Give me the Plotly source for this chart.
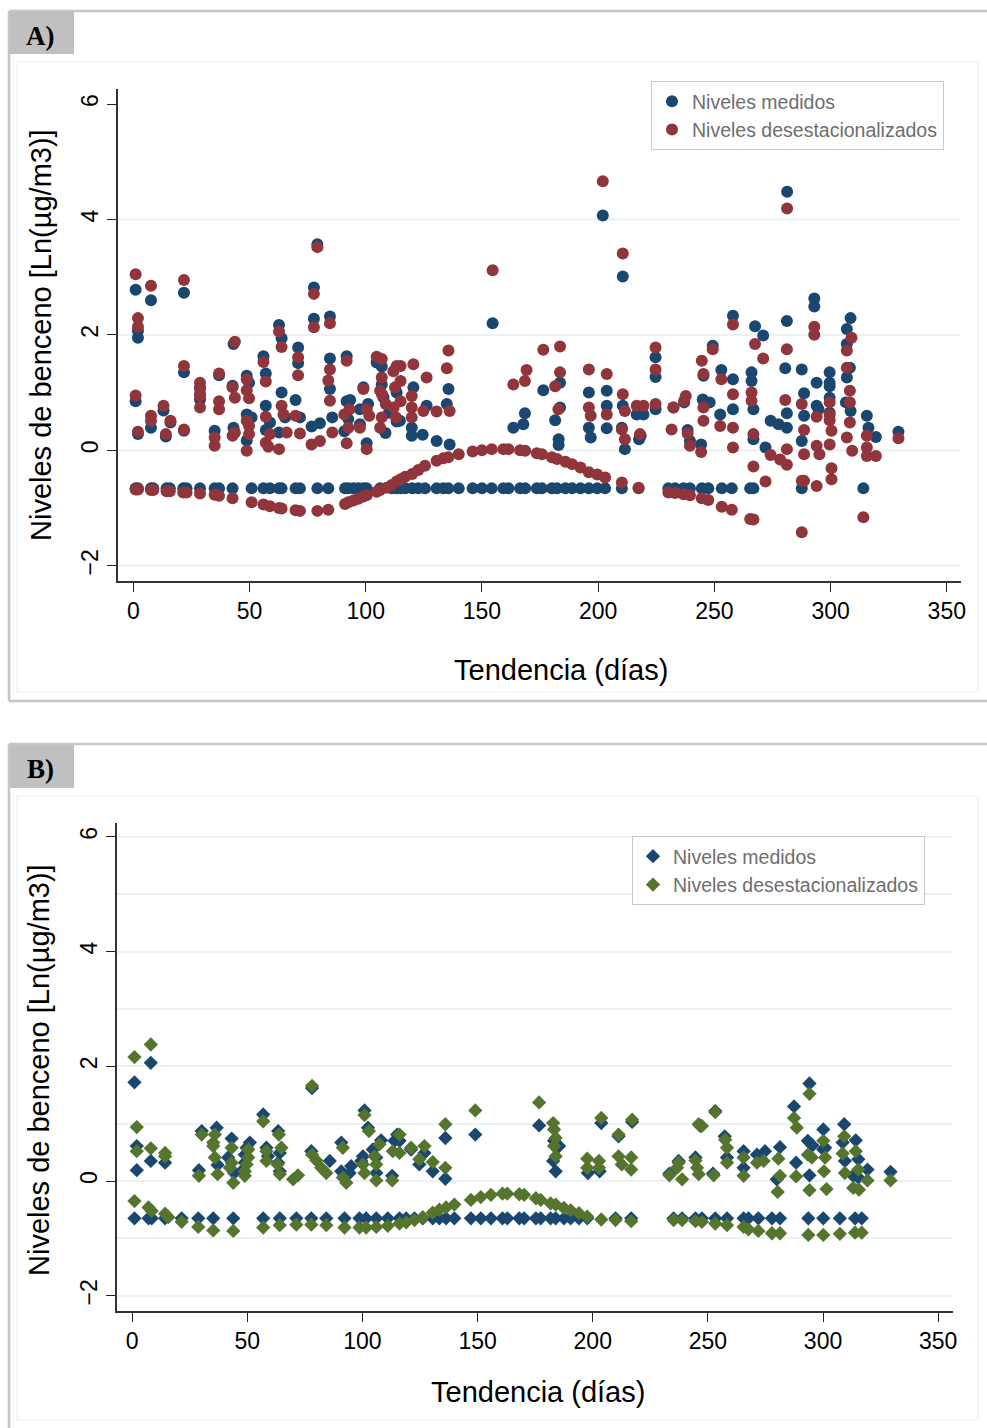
import plotly.graph_objects as go

W, H = 987, 1428
PAGE_W = 992  # the captured page is ~0.5% narrower than the layout; compensate


def px(x):
    return x / W


def py(y):
    return 1 - y / H


# ---------------- Panel A data (day, ln level) ----------------
A_med_upper = [
    (1, 2.78), (2, 2.07), (2, 1.95), (1, 0.85), (2, 0.28),
    (7.6, 2.6), (7.6, 0.39),
    (13, 0.69), (14, 0.24), (16, 0.48),
    (21.8, 2.73), (21.8, 1.35), (21.8, 0.34),
    (28.7, 1.09), (28.7, 0.97), (28.7, 0.88),
    (36.9, 1.3), (35, 0.34),
    (43.1, 1.84), (42.7, 1.12), (43.1, 0.39),
    (48.8, 1.29), (49.8, 1.17), (48.8, 0.62), (50.9, 0.57), (48.8, 0.17),
    (56, 1.63), (57, 1.33), (57, 0.77), (57, 0.35), (58.8, 0.48),
    (62.7, 2.17), (63.8, 1.94), (63.8, 1.0), (65.3, 0.57), (62.7, 0.31),
    (70.9, 1.78), (70.9, 1.51), (69.8, 0.87), (71.7, 0.57),
    (79.2, 3.57), (77.7, 2.82), (77.7, 2.28), (76.7, 0.41), (80.3, 0.47),
    (84.6, 2.32), (84.6, 1.59), (84.6, 1.06), (85.6, 0.57),
    (91.8, 1.63), (91.8, 0.85), (93.3, 0.87), (92.5, 0.54), (90.8, 0.33),
    (99, 1.09), (97.5, 0.71), (101, 0.8), (97.5, 0.45), (100.4, 0.12),
    (104.7, 1.52), (106.9, 1.45), (106.9, 1.14), (107.6, 0.92), (113.3, 1.0),
    (113.3, 0.5), (108.5, 0.3), (110, 0.65),
    (114.7, 0.51), (120.5, 1.09), (119.8, 0.39), (119.8, 0.25),
    (126.2, 0.77), (124.5, 0.27), (130.5, 0.16),
    (135.6, 1.06), (134.9, 0.8), (136.1, 0.1),
    (154.6, 2.2),
    (163.5, 0.39), (168.5, 0.64), (167.8, 0.45),
    (176.4, 1.04),
    (183.6, 1.17), (183.6, 0.74), (181.5, 0.52), (183, 0.19), (183, 0.09),
    (196, 1.0), (196, 0.39), (196.8, 0.22),
    (202, 4.07),
    (203.7, 1.03), (203.7, 0.77), (203.7, 0.38),
    (210.6, 3.01), (210.6, 0.77), (210.2, 0.39), (211.5, 0.02),
    (217.6, 0.19), (218.3, 0.25), (216.6, 0.62), (219.5, 0.62),
    (224.7, 1.61), (224.7, 1.27), (224.7, 0.71),
    (232.4, 0.74), (237, 0.83), (238.5, 0.35), (239.5, 0.16),
    (245, 0.88), (248, 0.83), (245.3, 1.29), (244.3, 0.1),
    (249.3, 1.81), (252.5, 0.62), (253, 1.39),
    (258, 2.33), (258, 1.23), (258, 0.71),
    (266, 1.35), (266, 1.2), (266.8, 0.71), (266.8, 0.19),
    (267.5, 2.15), (271, 1.99), (272, 0.05),
    (274.2, 0.51), (277.6, 0.45), (281.2, 0.39),
    (281.2, 2.24), (280.5, 1.42), (281.2, 0.64), (281.3, 4.48),
    (287.6, 1.4), (288.6, 0.99), (288.6, 0.6), (287.6, 0.16),
    (293, 2.63), (293, 2.49), (294, 1.17), (294, 0.77), (294.8, 0.71),
    (299.6, 1.35), (299.6, 1.17), (299.6, 1.11), (299.6, 0.91), (299.6, 0.65),
    (307, 2.1), (307, 1.84), (307, 1.26), (308.6, 2.29), (308.3, 1.43),
    (306.6, 0.83), (308.6, 0.68),
    (315.6, 0.6), (316.3, 0.39), (319.5, 0.23),
    (329.2, 0.32),
]

A_med_low = [
    (1, -0.66), (2, -0.66), (7.6, -0.66), (8.6, -0.66), (14.3, -0.66),
    (15.7, -0.66), (21.5, -0.66), (22.9, -0.66), (28.7, -0.66), (35, -0.66),
    (36.9, -0.66), (42.7, -0.66), (50.9, -0.66), (56, -0.66), (58.8, -0.66),
    (62.7, -0.66), (63.8, -0.66), (69.8, -0.66), (71.7, -0.66), (79.2, -0.66),
    (83.9, -0.66), (91.1, -0.66), (92.5, -0.66), (94.7, -0.66), (96.8, -0.66),
    (99, -0.66), (100.4, -0.66), (106.2, -0.66), (111.2, -0.66), (113.3, -0.66),
    (115, -0.66), (117, -0.66), (120, -0.66), (122.6, -0.66), (125.5, -0.66),
    (130.5, -0.66), (133.4, -0.66), (135.5, -0.66), (140, -0.66), (146, -0.66),
    (150, -0.66), (154.2, -0.66), (159.2, -0.66), (161.4, -0.66), (166.4, -0.66),
    (168.6, -0.66), (173.6, -0.66), (175.8, -0.66), (180.1, -0.66), (182.3, -0.66),
    (185.9, -0.66), (188.8, -0.66), (192.4, -0.66), (196, -0.66), (199.6, -0.66),
    (203, -0.66), (210.2, -0.66), (217.4, -0.66), (230.2, -0.66), (233.1, -0.66),
    (236.7, -0.66), (239.5, -0.66), (244.6, -0.66), (247.4, -0.66), (253.2, -0.66),
    (257.5, -0.66), (265.4, -0.66), (266.8, -0.66), (287.6, -0.66), (314.1, -0.66),
]

A_des_upper = [
    (1, 3.05), (2, 2.29), (2, 2.14), (1, 0.95), (2, 0.32),
    (7.6, 2.85), (7.6, 0.6), (7.6, 0.51),
    (13, 0.77), (14, 0.28), (16, 0.51),
    (21.8, 2.95), (21.8, 1.46), (21.8, 0.36),
    (28.7, 1.17), (28.7, 1.06), (28.7, 0.94), (28.7, 0.74),
    (36.9, 1.33), (36.9, 0.85), (36.9, 0.71), (35, 0.22), (35, 0.08),
    (43.7, 1.88), (42.7, 1.09), (43.7, 0.91), (42.7, 0.25), (43.7, 0.31),
    (48.8, 1.23), (48.8, 1.04), (49.8, 0.9), (48.8, 0.51), (49.8, 0.42),
    (49.8, 0.28), (48.8, -0.01),
    (56, 1.53), (57, 1.19), (57, 0.58), (57, 0.13), (58.1, 0.06), (58.8, 0.28),
    (62.7, 2.06), (63.8, 1.79), (63.8, 0.77), (64.6, 0.62), (62.7, 0.02), (66, 0.31),
    (70.9, 1.61), (70.9, 1.3), (69.8, 0.6), (71.7, 0.29),
    (79.2, 3.52), (77.7, 2.71), (77.7, 2.13), (76.7, 0.1), (80.3, 0.16),
    (84.6, 2.2), (84.6, 1.4), (83.9, 1.21), (84.6, 0.86), (85.6, 0.31),
    (91.8, 1.55), (90.8, 0.62), (93, 0.71), (92.5, 0.39), (91.8, 0.12),
    (99, 1.06), (100.4, 0.71), (101.5, 0.6), (97.5, 0.39), (100.4, 0.02),
    (104.7, 1.62), (106.9, 1.58), (106.9, 1.26), (106.2, 1.03), (107, 0.97),
    (108.6, 0.8), (111.9, 1.37), (113.3, 1.46), (112.6, 1.09), (106.9, 0.57),
    (106.2, 0.39), (112, 0.74), (113, 0.57),
    (115, 1.46), (115, 1.2), (115, 0.85),
    (120.5, 1.49), (119.8, 0.94), (119.8, 0.74), (119.8, 0.57),
    (126.2, 1.26), (124.8, 0.68), (130.5, 0.67),
    (135.6, 1.73), (134.9, 1.42), (136.1, 0.68),
    (154.6, 3.12),
    (163.5, 1.14), (168.5, 1.2), (169.2, 1.39),
    (176.4, 1.74),
    (183.6, 1.8), (183.6, 1.35), (181.5, 1.11), (182.9, 0.71),
    (196, 1.4), (196, 0.74), (196.8, 0.6),
    (202, 4.66),
    (203.7, 1.32), (203.7, 0.62),
    (210.6, 3.41), (210.6, 0.97), (211.5, 0.68), (210.2, 0.36), (211.5, 0.19),
    (216.6, 0.77), (219.5, 0.77), (218, 0.28),
    (224.7, 1.78), (224.7, 1.4), (224.7, 0.8),
    (231.6, 0.36), (232.4, 0.74), (237, 0.86), (237.7, 0.94), (238.5, 0.29),
    (239.5, 0.08),
    (244.6, 1.55), (245.3, 1.32), (245.3, 0.74), (245.3, 0.51), (244.3, -0.03),
    (249.3, 1.75), (252.5, 0.42), (253, 1.23),
    (258, 2.18), (258, 0.97), (258, 0.39), (258, 0.05),
    (266, 1.0), (266, 0.86), (266.8, 0.28), (266.8, -0.28),
    (267.5, 1.84), (271, 1.59), (272, -0.54),
    (274.2, -0.08), (278.3, -0.16), (281.2, -0.25),
    (281.2, 1.75), (280.5, 0.87), (281.2, 0.02), (281.3, 4.19),
    (287.6, 0.8), (288.6, 0.35), (288.6, -0.07),
    (293, 2.14), (293, 2.0), (294, 0.58), (294, 0.08), (295.2, -0.07), (294, -0.62),
    (299.6, 0.83), (299.6, 0.62), (299.6, 0.52), (300.4, 0.34), (299.6, 0.1),
    (300.4, -0.31), (300.4, -0.5),
    (309, 1.95), (307, 1.73), (307, 1.43), (308.3, 1.03), (308.3, 0.83),
    (308.3, 0.48), (307, 0.22), (309.3, -0.01),
    (315.6, 0.25), (315.6, 0.05), (315.6, -0.1), (319.5, -0.1),
    (329.2, 0.21),
]

A_des_low = [
    (1, -0.68), (2, -0.68), (7.6, -0.69), (8.6, -0.69), (14.3, -0.71),
    (15.7, -0.71), (21.5, -0.73), (22.9, -0.73), (28.7, -0.75), (35, -0.77),
    (36.9, -0.79), (42.7, -0.83), (50.9, -0.9), (56, -0.94), (58.8, -0.97),
    (62.7, -1.0), (63.8, -1.01), (69.8, -1.04), (71.7, -1.05), (79.2, -1.05),
    (83.9, -1.03), (91.1, -0.93), (92.5, -0.9), (94.7, -0.87), (96.8, -0.84),
    (99, -0.8), (100.4, -0.78), (104.7, -0.72), (106.2, -0.69), (109, -0.65),
    (111.2, -0.6), (113.3, -0.54), (115, -0.5), (117, -0.46), (120, -0.41),
    (122.6, -0.34), (125.5, -0.27), (130.5, -0.18), (133.4, -0.14), (135.5, -0.12),
    (140, -0.07), (146, -0.02), (150, 0.0), (154.2, 0.02), (159.2, 0.02),
    (161.4, 0.02), (166.4, 0.0), (168.6, -0.01), (173.6, -0.05), (175.8, -0.07),
    (180.1, -0.12), (182.3, -0.15), (185.9, -0.2), (188.8, -0.24), (192.4, -0.3),
    (196, -0.38), (199.6, -0.42), (203, -0.47), (210.2, -0.56), (217.4, -0.65),
    (230.2, -0.73), (233.1, -0.74), (236.7, -0.76), (239.5, -0.78), (244.6, -0.83),
    (247.4, -0.86), (253.2, -0.98), (257.5, -1.03), (265.4, -1.19), (266.8, -1.2),
    (287.6, -0.53), (288.6, -0.53), (287.6, -1.42), (314.1, -1.16),
]

# ---------------- Panel B data (day, ln level) ----------------
B_med_upper = [
    (1, 1.72), (8.1, 2.06), (2, 0.61), (2, 0.19), (8.1, 0.35), (14.3, 0.32),
    (29, 0.19), (30.2, 0.87), (36.7, 0.93), (37.1, 0.28), (43.2, 0.74),
    (41.7, 0.41), (44.3, 0.14),
    (51.1, 0.67), (49.7, 0.58), (48.9, 0.46), (48.9, 0.32), (48.2, 0.2),
    (56.9, 1.16), (58.3, 0.58), (59, 0.43),
    (63.4, 0.87), (64.1, 0.49), (63.4, 0.32), (64.1, 0.17),
    (78.1, 1.62), (77.8, 0.52), (85.8, 0.35),
    (90.8, 0.67), (90.8, 0.17), (92.2, 0.09), (95.1, 0.26), (94.4, 0.14),
    (100.9, 1.23), (102.4, 0.93), (100.2, 0.43), (99.5, 0.35), (106, 0.14),
    (104.5, 0.55), (106, 0.41), (108.1, 0.71), (112.9, 0.09), (113.9, 0.7),
    (115.1, 0.81),
    (116.1, 0.7), (121.1, 0.55), (124.7, 0.29), (126.9, 0.49), (130.5, 0.17),
    (136, 0.75), (136, 0.04),
    (149, 0.81), (176.7, 0.97),
    (183.2, 0.7), (185.4, 0.61), (182.8, 0.35), (183.9, 0.17),
    (197.9, 0.14), (203, 0.17), (203.7, 1.01), (211.2, 0.78), (217.1, 1.03),
    (233.3, 0.13), (237.3, 0.35), (244.6, 0.41), (246.7, 0.96), (252.2, 0.13),
    (253.2, 1.22), (257.3, 0.78), (258.3, 0.41),
    (265.5, 0.52), (265.5, 0.23), (271.3, 0.46), (274.8, 0.52),
    (281.3, 0.59), (279.9, 0.03), (287.4, 1.3), (288.3, 0.32),
    (294.1, 1.7), (293.4, 0.7), (295.4, 0.62), (294.1, 0.1),
    (300.1, 0.9), (300.1, 0.55), (300.9, 0.58),
    (309.2, 0.99), (308.5, 0.67), (309.5, 0.35),
    (314.2, 0.71), (315.3, 0.38), (313.1, 0.09), (315.3, 0.06),
    (319.3, 0.2), (329.3, 0.16),
]

B_med_low = [
    (1, -0.65), (7.1, -0.65), (8.5, -0.65), (14.3, -0.65), (21.5, -0.65),
    (28.7, -0.65), (35.2, -0.65), (43.9, -0.65), (56.9, -0.65), (64.1, -0.65),
    (71.3, -0.65), (77.8, -0.65), (84.3, -0.65), (92.2, -0.65), (98.7, -0.65),
    (101.6, -0.65), (106, -0.65), (111, -0.65), (116.1, -0.65), (119, -0.65),
    (122.6, -0.65), (126.2, -0.65), (130.5, -0.65), (133.4, -0.65), (136.3, -0.65),
    (139.9, -0.65), (147.1, -0.65), (151.4, -0.65), (155.8, -0.65), (160.8, -0.65),
    (162.9, -0.65), (168.1, -0.65), (170.2, -0.65), (175.3, -0.65), (177.4, -0.65),
    (181.7, -0.65), (183.9, -0.65), (187.5, -0.65), (190.4, -0.65), (194, -0.65),
    (197.6, -0.65), (209.9, -0.65), (216.7, -0.65), (235.1, -0.65), (238.8, -0.65),
    (244.6, -0.65), (247.4, -0.65), (253.2, -0.65), (258.3, -0.65), (265.5, -0.65),
    (267.6, -0.65), (271.9, -0.65), (277.8, -0.65), (281.3, -0.65), (293.6, -0.65),
    (300.1, -0.65), (307.3, -0.65), (313.9, -0.65), (316.8, -0.65),
]

B_des_upper = [
    (1, 2.16), (8.1, 2.38), (2, 0.94), (2, 0.52), (8.1, 0.57), (14.3, 0.49),
    (14.3, 0.43),
    (29, 0.09), (30.2, 0.81), (35.9, 0.81), (35.2, 0.67), (35.2, 0.61),
    (35.9, 0.41), (37.1, 0.12), (43.2, 0.58), (43.2, 0.32), (42.4, 0.23),
    (43.9, -0.03),
    (50.4, 0.55), (50.4, 0.41), (49.7, 0.29), (48.9, 0.17), (48.9, 0.09),
    (56.9, 1.04), (58.3, 0.52), (58.3, 0.35),
    (63.7, 0.81), (64.8, 0.58), (64.1, 0.12), (63.1, 0.29),
    (69.9, 0.03), (72, 0.1),
    (78.1, 1.66), (78.1, 0.46), (80, 0.36), (82.1, 0.23), (84.3, 0.14),
    (91.5, 0.58), (91.5, 0.06), (93, -0.03),
    (100.9, 1.15), (102.8, 0.87), (100.2, 0.29), (100.9, 0.14), (106, 0.01),
    (105.2, 0.43), (106, 0.29), (107.4, 0.64), (112.9, 0.01), (113.2, 0.52),
    (116.1, 0.81), (116.1, 0.49), (121.1, 0.58), (124.7, 0.38), (126.9, 0.61),
    (130.5, 0.33), (136, 0.99), (136, 0.23),
    (149, 1.23), (176.7, 1.37),
    (182.8, 1.01), (183.2, 0.9), (183.9, 0.75), (183.2, 0.61), (183.9, 0.43),
    (197.6, 0.39), (197.6, 0.23), (202.7, 0.35), (202.7, 0.23),
    (203.7, 1.1), (211.2, 0.81), (211.2, 0.43), (212.6, 0.29), (216.7, 0.41),
    (216.7, 0.2), (217.1, 1.07),
    (233.3, 0.1), (237.3, 0.32), (236.6, 0.23), (238.8, 0.03), (244.6, 0.36),
    (245.3, 0.23), (246, 0.12), (246, 0.99), (247.4, 0.96), (252.5, 0.1),
    (253.2, 1.2),
    (257.5, 0.72), (258.3, 0.58), (258.3, 0.32),
    (265.5, 0.41), (265.5, 0.09), (271.3, 0.32), (274.2, 0.35),
    (280.6, 0.39), (281.3, 0.09), (280.3, -0.19),
    (287.4, 1.1), (288.6, 0.93), (288.3, 0.08),
    (294.1, 1.52), (293.4, 0.46), (295.1, 0.41), (294.1, -0.16),
    (300.1, 0.7), (300.9, 0.41), (300.4, 0.17), (301.5, -0.14),
    (309.2, 0.78), (308.5, 0.48), (309.5, 0.14),
    (314.2, 0.52), (315.3, 0.2), (313.1, -0.12), (315.6, -0.15),
    (319.3, 0.01), (329.3, 0.01),
]

B_des_low = [
    (1, -0.35), (7.1, -0.46), (8.5, -0.52), (14.3, -0.57), (15.7, -0.63),
    (21.5, -0.71), (28.7, -0.8), (35.2, -0.86), (43.9, -0.87), (56.9, -0.81),
    (64.1, -0.77), (71.3, -0.76), (77.8, -0.76), (84.3, -0.77), (92.2, -0.81),
    (98.7, -0.81), (101.6, -0.81), (106, -0.8), (111, -0.78), (116.1, -0.74),
    (119, -0.72), (122.6, -0.68), (126.2, -0.63), (130.5, -0.55), (133.4, -0.5),
    (136.3, -0.46), (139.9, -0.41), (147.1, -0.33), (151.4, -0.28), (155.8, -0.24),
    (160.8, -0.22), (162.9, -0.22), (168.1, -0.23), (170.2, -0.24), (175.3, -0.3),
    (177.4, -0.33), (181.7, -0.39), (183.9, -0.41), (187.5, -0.47), (190.4, -0.51),
    (194, -0.56), (197.6, -0.62), (203.7, -0.67), (209.9, -0.68), (216.7, -0.7),
    (235.1, -0.68), (238.8, -0.68), (244.6, -0.7), (247.4, -0.71), (253.2, -0.74),
    (258.3, -0.77), (265.5, -0.8), (267.6, -0.84), (271.9, -0.87), (277.8, -0.91),
    (281.3, -0.91), (293.6, -0.94), (300.1, -0.94), (307.3, -0.92), (313.9, -0.9),
    (316.8, -0.9),
]

X_TICKS = [0, 50, 100, 150, 200, 250, 300, 350]
Y_TICKS = [-2, 0, 2, 4, 6]
A_GRID = [-2, 0, 2, 4]

NAME_MED = "Niveles medidos"
NAME_DES = "Niveles desestacionalizados"
X_TITLE = "Tendencia (días)"
Y_TITLE = "Niveles de benceno [Ln(µg/m3)]"

BLUE = "#1a476f"
RED = "#90353b"
GREEN = "#55752f"
GRID = "#eaf2f3"
FRAME = "#c6c6c6"
FONT = "Liberation Sans, Arial, Helvetica, sans-serif"
SERIF = "Liberation Serif, Times New Roman, serif"


def xs(pairs):
    return [p[0] for p in pairs]


def ys(pairs):
    return [p[1] for p in pairs]


fig = go.Figure()

A_med = A_med_upper + A_med_low
A_des = A_des_upper + A_des_low
B_med = B_med_upper + B_med_low
B_des = B_des_upper + B_des_low

fig.add_trace(go.Scatter(x=xs(A_med), y=ys(A_med), mode="markers", name=NAME_MED,
                         marker=dict(color=BLUE, size=12, line=dict(width=0)),
                         xaxis="x", yaxis="y", legend="legend"))
fig.add_trace(go.Scatter(x=xs(A_des), y=ys(A_des), mode="markers", name=NAME_DES,
                         marker=dict(color=RED, size=12, line=dict(width=0)),
                         xaxis="x", yaxis="y", legend="legend"))
fig.add_trace(go.Scatter(x=xs(B_med), y=ys(B_med), mode="markers", name=NAME_MED,
                         marker=dict(color=BLUE, size=11, symbol="diamond", line=dict(width=0)),
                         xaxis="x2", yaxis="y2", legend="legend2"))
fig.add_trace(go.Scatter(x=xs(B_des), y=ys(B_des), mode="markers", name=NAME_DES,
                         marker=dict(color=GREEN, size=11, symbol="diamond", line=dict(width=0)),
                         xaxis="x2", yaxis="y2", legend="legend2"))

axis_common = dict(
    showline=True, linecolor="#333333", linewidth=1.5,
    ticks="outside", ticklen=9, tickwidth=1.3, tickcolor="#222222",
    tickfont=dict(family=FONT, size=23, color="#000000"),
    zeroline=False,
)


def pline(x0, y0, x1, y1, color, width):
    return dict(type="line", xref="paper", yref="paper",
                x0=px(x0), y0=py(y0), x1=px(x1), y1=py(y1),
                line=dict(color=color, width=width), layer="below")


shapes = [
    # panel A outer frame (open on the right, like the cropped original)
    pline(9, 11, W, 11, FRAME, 2.5),
    pline(9, 11, 9, 701, FRAME, 2.5),
    pline(9, 701, W, 701, FRAME, 2.5),
    # panel B outer frame
    pline(9, 744, W, 744, FRAME, 2.5),
    pline(9, 744, 9, H, FRAME, 2.5),
]
for inner_top, inner_bottom, top, lab_bottom in [(62, 692, 11, 54), (796, 1420, 744, 788)]:
    shapes.append(dict(type="rect", xref="paper", yref="paper",
                       x0=px(17), x1=px(978), y0=py(inner_bottom), y1=py(inner_top),
                       line=dict(color=GRID, width=1.2), fillcolor="rgba(0,0,0,0)",
                       layer="below"))
    shapes.append(dict(type="rect", xref="paper", yref="paper",
                       x0=px(10), x1=px(74), y0=py(lab_bottom), y1=py(top + 1),
                       line=dict(width=0), fillcolor="#c0c0c0", layer="below"))

for g in A_GRID:
    shapes.append(dict(type="line", xref="x domain", yref="y", x0=0, x1=1, y0=g, y1=g,
                       line=dict(color=GRID, width=2.2), layer="below"))


def ann(text, x, y, size, family=FONT, angle=0):
    return dict(text=text, x=px(x), y=py(y), xref="paper", yref="paper",
                xanchor="center", yanchor="middle", textangle=angle,
                showarrow=False, font=dict(family=family, size=size, color="#000"))


annotations = [
    ann("<b>A)</b>", 40, 36, 27, SERIF),
    ann("<b>B)</b>", 40, 769, 27, SERIF),
    ann(X_TITLE, 561, 670, 29),
    ann(X_TITLE, 538, 1392, 29),
    ann(Y_TITLE, 41, 335, 29, angle=-90),
    ann(Y_TITLE, 39, 1070, 29, angle=-90),
]

legend_common = dict(
    xanchor="left", yanchor="top", bgcolor="#ffffff",
    bordercolor="#c8c8c8", borderwidth=1,
    font=dict(family=FONT, size=19.5, color="#6e6e6e"),
    tracegroupgap=0,
)

fig.update_layout(
    width=PAGE_W, height=H,
    margin=dict(l=0, r=0, t=0, b=0),
    paper_bgcolor="#ffffff", plot_bgcolor="#ffffff",
    showlegend=True,
    xaxis=dict(domain=[px(117.5), px(960.5)], range=[-6.8, 355.9], anchor="y",
               tickvals=X_TICKS, showgrid=False, **axis_common),
    yaxis=dict(domain=[py(581), py(89)], range=[-2.265, 6.26], anchor="x",
               tickvals=Y_TICKS, tickangle=-90, showgrid=False, **axis_common),
    xaxis2=dict(domain=[px(116.5), px(953.4)], range=[-6.8, 356.6], anchor="y2",
                tickvals=X_TICKS, showgrid=False, **axis_common),
    yaxis2=dict(domain=[py(1311), py(823)], range=[-2.265, 6.24], anchor="x2",
                tickvals=Y_TICKS, tickangle=-90, showgrid=True, gridcolor=GRID,
                gridwidth=2.2,
                minor=dict(dtick=1, tick0=0, showgrid=True, gridcolor=GRID, gridwidth=2.2,
                           ticks=""),
                **axis_common),
    legend=dict(x=px(651), y=py(81), **legend_common),
    legend2=dict(x=px(632), y=py(836), **legend_common),
    shapes=shapes,
    annotations=annotations,
)

POST = (
    "document.documentElement.style.margin='0px';"
    "document.body.style.margin='0px';"
    "document.body.style.overflow='hidden';"
)

fig.write_html("out.html", config={"displayModeBar": False}, post_script=POST)
